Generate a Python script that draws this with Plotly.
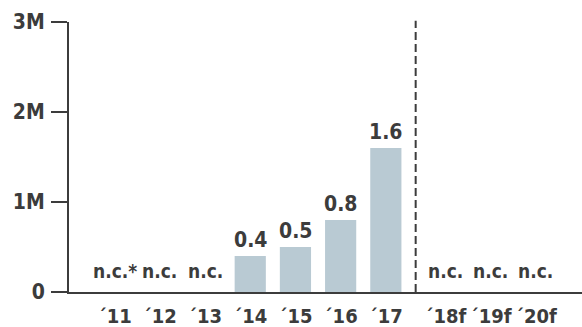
import plotly.graph_objects as go

# Annual volume, in millions; None = not communicated
years = ["´11", "´12", "´13", "´14", "´15", "´16", "´17", "´18f", "´19f", "´20f"]
values = [None, None, None, 0.4, 0.5, 0.8, 1.6, None, None, None]
labels = ["n.c.*", "n.c.", "n.c.", "0.4", "0.5", "0.8", "1.6", "n.c.", "n.c.", "n.c."]
forecast = [False, False, False, False, False, False, False, True, True, True]
y_ticks = [0, 1, 2, 3]
y_tick_text = ["0", "1M", "2M", "3M"]

DARK = "#3c3c3c"
BAR = "#b9cad3"
FONT = "DejaVu Sans Condensed, Arial Narrow, sans-serif"
SIZE = 21

# forecast years sit a little further right, after the divider
GAP = 0.32
xs = [i + (GAP if f else 0) for i, f in enumerate(forecast)]
last_actual = max(x for x, f in zip(xs, forecast) if not f)
first_fc = min(x for x, f in zip(xs, forecast) if f)
divider_x = (last_actual + first_fc) / 2

fig = go.Figure()
fig.add_trace(go.Bar(
    x=xs,
    y=[v if v is not None else 0 for v in values],
    width=0.69,
    marker=dict(color=BAR, line=dict(width=0)),
    hoverinfo="skip",
))

for x, v, t in zip(xs, values, labels):
    fig.add_annotation(
        x=x, y=v if v is not None else 0,
        text=f"<b>{t}</b>",
        showarrow=False, yanchor="bottom",
        yshift=2 if v is not None else 8,
        font=dict(family=FONT, size=SIZE if v is not None else 19, color=DARK),
    )

fig.add_shape(
    type="line", xref="x", yref="paper",
    x0=divider_x, x1=divider_x, y0=0, y1=1.005,
    line=dict(color=DARK, width=2, dash="8px,4px"),
)

fig.update_layout(
    width=582, height=327,
    margin=dict(l=69, r=0, t=22, b=35),
    paper_bgcolor="white", plot_bgcolor="white",
    showlegend=False,
    font=dict(family=FONT, color=DARK),
)
fig.update_xaxes(
    range=[-1.01, 10.34],
    tickmode="array", tickvals=xs, ticktext=[f"<b>{y}</b>" for y in years],
    tickfont=dict(family=FONT, size=20, color=DARK),
    tickangle=0, automargin=False,
    showline=True, linecolor=DARK, linewidth=2,
    ticks="", showgrid=False, zeroline=False,
    ticklabelstandoff=5,
)
fig.update_yaxes(
    range=[0, 3],
    tickmode="array", tickvals=y_ticks, ticktext=[f"<b>{t}</b>" for t in y_tick_text],
    tickfont=dict(family=FONT, size=SIZE, color=DARK),
    automargin=False,
    showline=True, linecolor=DARK, linewidth=2,
    ticks="outside", ticklen=16, tickwidth=2, tickcolor=DARK,
    ticklabelstandoff=2,
    showgrid=False, zeroline=False,
)

fig.write_html("out.html")
